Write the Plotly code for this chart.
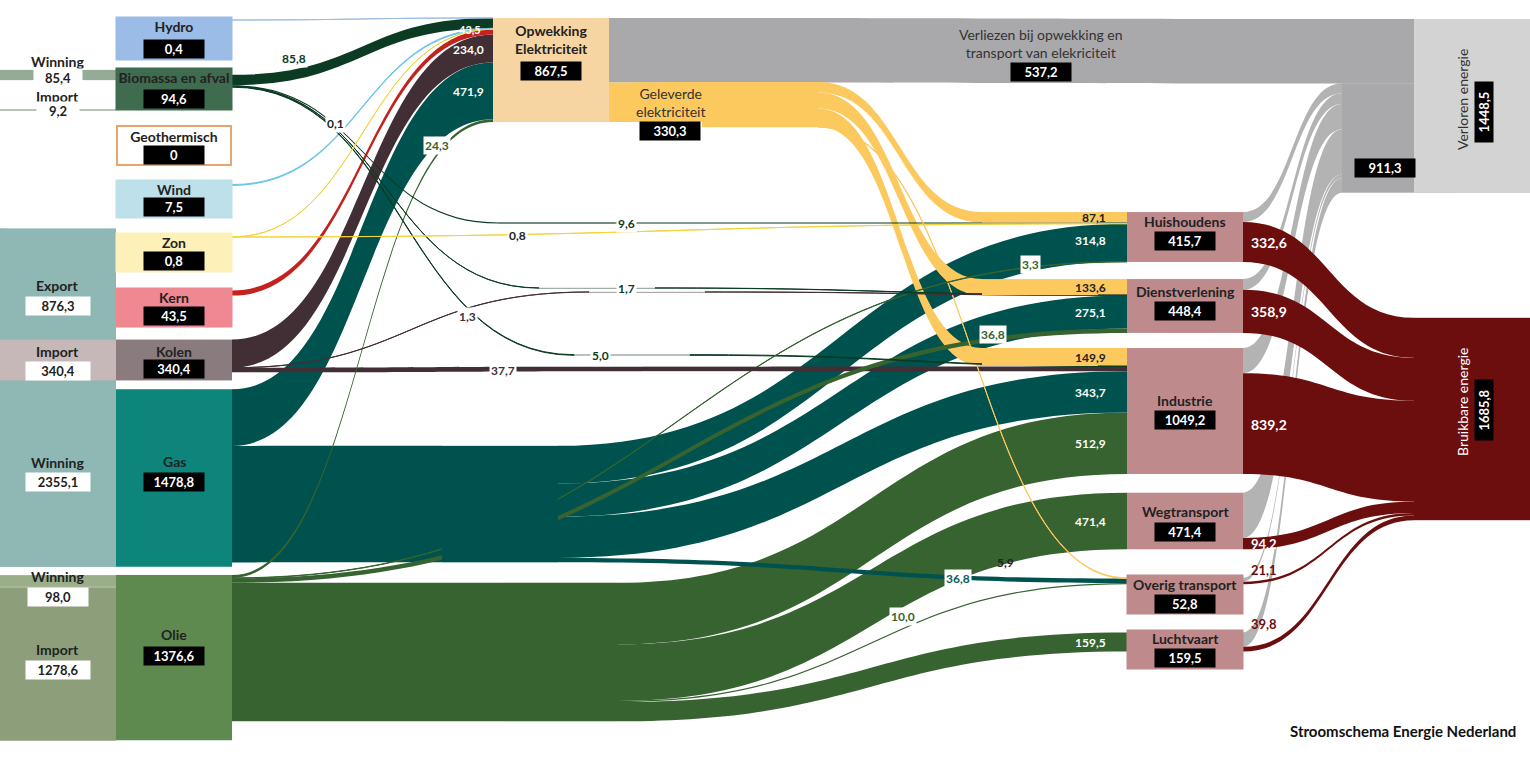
import plotly.graph_objects as go

W, H = 1530, 768
MT, MB = 12, 38
PH = H - MT - MB
FONT = "Lato"
THICK = 116

# ------------------------------------------------------------------ data
bio_src_vals = [85.4, 9.2]            # Winning, Import -> Biomassa en afval
gas_winning = 2355.1
gas_export = 876.3
gas_primary = 1478.8
kolen_import = 340.4
olie_src_vals = [98.0, 1278.6]        # Winning, Import -> Olie

primary = ["Hydro", "Biomassa en afval", "Geothermisch", "Wind", "Zon", "Kern", "Kolen", "Gas", "Olie"]
primary_totals = [0.4, 94.6, 0, 7.5, 0.8, 43.5, 340.4, 1478.8, 1376.6]
to_opwekking = [0.4, 85.8, 0, 7.5, 0.1, 43.5, 234.0, 471.9, 24.3]

opwekking_total = 867.5
opwekking_verlies = 537.2
geleverde = 330.3

sectors = ["Huishoudens", "Dienstverlening", "Industrie", "Wegtransport", "Overig transport", "Luchtvaart"]
sector_totals = [415.7, 448.4, 1049.2, 471.4, 52.8, 159.5]
elec_to_sector = [87.1, 133.6, 149.9, 0, 5.9, 0]
gas_to_sector = [314.8, 275.1, 343.7, 0, 36.8, 0]
olie_to_sector = [3.3, 36.8, 512.9, 471.4, 10.0, 159.5]
kolen_to_sector = [0, 1.3, 37.7, 0, 0, 0]
bio_to_sector = [9.6, 1.7, 5.0, 0, 0, 0]
zon_to_sector = [0.8, 0, 0, 0, 0, 0]
sector_useful = [332.6, 358.9, 839.2, 94.2, 21.1, 39.8]
sector_lost = [83.1, 89.5, 210.0, 377.2, 31.7, 119.7]
sectors_lost_total = 911.3
verloren_total = 1448.5
bruikbaar_total = 1685.8

# ------------------------------------------------------------------ style
primary_node_col = {"Hydro": "#9abce6", "Biomassa en afval": "#3f6b4e", "Geothermisch": "#ffffff",
                    "Wind": "#bde0ea", "Zon": "#fdf0b8", "Kern": "#f08892", "Kolen": "#8a7b7e",
                    "Gas": "#0d857b", "Olie": "#5e8a50"}
primary_link_col = {"Hydro": "#9dbde6", "Biomassa en afval": "#0b3b22", "Wind": "#6cc6e8",
                    "Zon": "#f3d43c", "Kern": "#c3231f", "Kolen": "#412f35", "Gas": "#00524e",
                    "Olie": "#36632f"}
SECTOR_COL = "#bf8a8c"
ELEC_COL = "#fcc95e"
LOSS_COL = "#a9a8aa"
USE_COL = "#6d0e0e"
GAS_C = primary_link_col["Gas"]
OLIE_C = primary_link_col["Olie"]
BIO_C = primary_link_col["Biomassa en afval"]
KOL_C = primary_link_col["Kolen"]

# node ids, colours and pixel centres (layout only)
nodes = []
def add_node(key, color, px, py):
    nodes.append(dict(key=key, color=color, px=px, py=py))

SRC_X, PRIM_X, SECT_X = 58, 174, 1185
add_node("bio_w", "#95ab95", SRC_X, 75)
add_node("bio_i", "#7e9a7e", SRC_X, 110)
add_node("export", "#8fb8b5", SRC_X, 281)
add_node("gas_w", "#8fb8b5", SRC_X, 425.6)
add_node("kolen_i", "#c6b8b9", SRC_X, 360)
add_node("olie_w", "#9aae8a", SRC_X, 581)
add_node("olie_i", "#8c9e7a", SRC_X, 664)
prim_py = {"Hydro": 20, "Biomassa en afval": 81, "Wind": 185, "Zon": 237, "Kern": 293,
           "Kolen": 360, "Gas": 478, "Olie": 657.6}
for p in primary:
    if p in prim_py:
        add_node(p, primary_node_col[p], PRIM_X, prim_py[p])
add_node("Opwekking", "#f6d5a3", 551, 70)
add_node("Geleverde", ELEC_COL, 760, 104.6)
# pass-through points (same colour as the flow) that keep bundles level before they split
add_node("gas_run", GAS_C, 500, 504.1)
add_node("olie_run", OLIE_C, 560, 652.0)
add_node("via_bio_0", BIO_C, 557, 223)
add_node("via_bio_1", BIO_C, 597, 288)
add_node("via_bio_2", BIO_C, 632, 355)
add_node("via_kol_1", KOL_C, 647, 292)
add_node("via_kol_2", KOL_C, 700, 368.9)
add_node("via_el_0", ELEC_COL, 1040, 217.3)
add_node("via_el_1", ELEC_COL, 1040, 287.1)
add_node("via_el_2", ELEC_COL, 1040, 357.0)
sector_py = [237, 306, 411, 521, 581, 642]
for s, y in zip(sectors, sector_py):
    add_node(s, SECTOR_COL, SECT_X, y)
add_node("Verlies", LOSS_COL, 1400, 138)
add_node("Verloren", "#d3d3d3", 1472, 106)
add_node("Bruikbaar", USE_COL, 1472, 419)
idx = {n["key"]: i for i, n in enumerate(nodes)}

links = []
def add_link(s, t, v, c, prio=1):
    if v > 0:
        links.append(dict(s=idx[s], t=idx[t], v=v, c=c, prio=prio))

def add_flow(src, via, tgt, v, c):
    if v <= 0:
        return
    if via in idx:
        add_link(src, via, v, c)
        add_link(via, tgt, v, c)
    else:
        add_link(src, tgt, v, c)

add_link("bio_w", "Biomassa en afval", bio_src_vals[0], "#95ab95")
add_link("bio_i", "Biomassa en afval", bio_src_vals[1], "#7e9a7e")
add_link("gas_w", "export", gas_export, "#8fb8b5")
add_link("gas_w", "Gas", gas_primary, "#8fb8b5")
add_link("kolen_i", "Kolen", kolen_import, "#c6b8b9")
add_link("olie_w", "Olie", olie_src_vals[0], "#9aae8a")
add_link("olie_i", "Olie", olie_src_vals[1], "#8c9e7a")
for p, v in zip(primary, to_opwekking):
    if p in prim_py:
        add_link(p, "Opwekking", v, primary_link_col[p])
add_link("Opwekking", "Verloren", opwekking_verlies, LOSS_COL)
add_link("Opwekking", "Geleverde", geleverde, ELEC_COL)
add_link("Gas", "gas_run", sum(gas_to_sector), GAS_C)
olie_bundle = [0, 0, 1, 1, 1, 1]   # which oil flows travel in the lower bundle
add_link("Olie", "olie_run", sum(v for v, b in zip(olie_to_sector, olie_bundle) if b), OLIE_C)
for i, s in enumerate(sectors):
    add_link("gas_run", s, gas_to_sector[i], GAS_C)
    add_link("olie_run" if olie_bundle[i] else "Olie", s, olie_to_sector[i], OLIE_C)
    add_flow("Geleverde", f"via_el_{i}", s, elec_to_sector[i], ELEC_COL)
    add_flow("Kolen", f"via_kol_{i}", s, kolen_to_sector[i], KOL_C)
    add_flow("Biomassa en afval", f"via_bio_{i}", s, bio_to_sector[i], BIO_C)
    add_link("Zon", s, zon_to_sector[i], primary_link_col["Zon"])
    add_link(s, "Verlies", sector_lost[i], "#b3b3b3", prio=0)
    add_link(s, "Bruikbaar", sector_useful[i], USE_COL)
add_link("Verlies", "Verloren", sectors_lost_total, LOSS_COL)

links.sort(key=lambda l: (l["prio"], -l["v"]))

fig = go.Figure(go.Sankey(
    arrangement="fixed",
    hoverinfo="none",
    node=dict(
        label=["" for _ in nodes],
        color=[n["color"] for n in nodes],
        x=[n["px"] / W for n in nodes],
        y=[(n["py"] - MT) / PH for n in nodes],
        thickness=THICK,
        pad=23.5,
        line=dict(width=0),
    ),
    link=dict(
        source=[l["s"] for l in links],
        target=[l["t"] for l in links],
        value=[l["v"] for l in links],
        color=[l["c"] for l in links],
        line=dict(width=0),
    ),
))

# ------------------------------------------------------------------ annotations
def fmt(v):
    return f"{v:.1f}".replace(".", ",") if v != 0 else "0"

def X(px):
    return px / W

def Y(py):
    return (H - MB - py) / PH

ann = []

def text(px, py, t, color="#222222", size=14, bold=True, bg=None, angle=0, xanchor="center"):
    d = dict(x=X(px), y=Y(py), xref="paper", yref="paper", text=t, showarrow=False,
             xanchor=xanchor, yanchor="middle", textangle=angle,
             font=dict(family=FONT, size=size, color=color, weight="bold" if bold else "normal"))
    if bg:
        d.update(bgcolor=bg, borderpad=1)
    ann.append(d)

def pill(px, py, t, dark=True, angle=0, w=58, size=13):
    ann.append(dict(x=X(px), y=Y(py), xref="paper", yref="paper", text=f"<b>{t}</b>",
                    showarrow=False, xanchor="center", yanchor="middle", textangle=angle,
                    width=w, height=16, borderpad=1,
                    bgcolor="#000000" if dark else "#ffffff",
                    font=dict(family=FONT, size=size, color="#ffffff" if dark else "#222222")))

def box(px, top, bot, bg, label, border=None, w=THICK - 2):
    d = dict(x=X(px), y=Y((top + bot) / 2), xref="paper", yref="paper", text=label,
             showarrow=False, xanchor="center", yanchor="middle", valign="top",
             width=w, height=bot - top - 2, borderpad=1, bgcolor=bg,
             font=dict(family=FONT, size=14, color="#222222", weight="bold"))
    if border:
        d.update(bordercolor=border, borderwidth=2, height=bot - top - 6, width=w - 4)
    ann.append(d)

# source column labels
text(SRC_X, 62, "Winning"); pill(SRC_X, 78, fmt(bio_src_vals[0]), dark=False, w=46)
text(SRC_X, 96, "Import"); pill(SRC_X, 111, fmt(bio_src_vals[1]), dark=False, w=40)
text(SRC_X, 285, "Export"); pill(SRC_X, 306, fmt(gas_export), dark=False, w=62)
text(SRC_X, 351, "Import"); pill(SRC_X, 371, fmt(kolen_import), dark=False, w=62)
text(SRC_X, 462, "Winning"); pill(SRC_X, 482, fmt(gas_winning), dark=False, w=62)
text(SRC_X, 576, "Winning"); pill(SRC_X, 597, fmt(olie_src_vals[0]), dark=False, w=58)
text(SRC_X, 649, "Import"); pill(SRC_X, 670, fmt(olie_src_vals[1]), dark=False, w=62)

# primary boxes
prim_box = {"Hydro": (17, 60), "Biomassa en afval": (68, 110), "Geothermisch": (125, 166),
            "Wind": (180, 218), "Zon": (233, 272), "Kern": (288, 327)}
for p, tot in zip(primary, primary_totals):
    if p in prim_box:
        top, bot = prim_box[p]
        box(PRIM_X, top, bot, primary_node_col[p], p,
            border="#e9a56c" if p == "Geothermisch" else None)
        pill(PRIM_X, bot - 11, fmt(tot))
text(PRIM_X, 351, "Kolen"); pill(PRIM_X, 369, fmt(primary_totals[6]))
text(PRIM_X, 461, "Gas"); pill(PRIM_X, 482, fmt(primary_totals[7]))
text(PRIM_X, 634, "Olie"); pill(PRIM_X, 656, fmt(primary_totals[8]))

# opwekking / verliezen / geleverde
text(551, 40, "Opwekking<br>Elektriciteit")
pill(551, 71, fmt(opwekking_total))
text(1041, 43, "Verliezen bij opwekking en<br>transport van elekriciteit", bold=False, color="#333333")
pill(1041, 72, fmt(opwekking_verlies))
text(670, 103, "Geleverde<br>elektriciteit", bold=False, color="#333333")
pill(670, 131, fmt(geleverde))

# sector boxes
sec_label_py = [221, 291, 400, 512, 584, 638]
box(SECT_X, 575, 614, SECTOR_COL, "")
box(SECT_X, 630, 669, SECTOR_COL, "")
for s, tot, ly in zip(sectors, sector_totals, sec_label_py):
    text(SECT_X, ly, s)
    pill(SECT_X, ly + 20, fmt(tot))

# right side
text(1462, 100, "Verloren energie", angle=-90, bold=False, color="#333333")
pill(1484, 112, fmt(verloren_total), angle=-90)
pill(1385, 168, fmt(sectors_lost_total))
text(1462, 402, "Bruikbare energie", angle=-90, bold=False, color="#ffffff")
pill(1484, 410, fmt(bruikbaar_total), angle=-90)

useful_py = [242, 311, 424, 544, 570, 624]
for v, y, i in zip(sector_useful, useful_py, range(6)):
    col = "#ffffff" if i < 4 else USE_COL
    text(1249, y, fmt(v), color=col, size=14 if i < 3 else 13, xanchor="left")

# flow labels into opwekking
text(294, 58, fmt(to_opwekking[1]), color="#0b3b22", size=12, bg="#ffffff")
text(470, 30, fmt(to_opwekking[5]), color="#ffffff", size=11)
text(468, 49, fmt(to_opwekking[6]), color="#ffffff", size=12)
text(468, 91, fmt(to_opwekking[7]), color="#ffffff", size=12)
text(335, 124, fmt(to_opwekking[4]), color="#222222", size=12, bg="#ffffff")
text(437, 146, fmt(to_opwekking[8]), color="#36632f", size=12, bg="#ffffff")

# thin flow labels
text(626, 223, fmt(bio_to_sector[0]), color="#0b3b22", size=12, bg="#ffffff")
text(517, 236, fmt(zon_to_sector[0]), color="#222222", size=12, bg="#ffffff")
text(626, 288, fmt(bio_to_sector[1]), color="#0b3b22", size=12, bg="#ffffff")
text(467, 316, fmt(kolen_to_sector[1]), color="#412f35", size=12, bg="#ffffff")
text(600, 355, fmt(bio_to_sector[2]), color="#0b3b22", size=12, bg="#ffffff")
text(503, 370, fmt(kolen_to_sector[2]), color="#412f35", size=12, bg="#ffffff")

# labels next to sectors
text(1108, 217, fmt(elec_to_sector[0]), size=12, xanchor="right")
text(1108, 241, fmt(gas_to_sector[0]), color="#ffffff", size=12, xanchor="right")
text(1030, 264, fmt(olie_to_sector[0]), color="#36632f", size=12, bg="#ffffff")
text(1108, 287, fmt(elec_to_sector[1]), size=12, xanchor="right")
text(1108, 312, fmt(gas_to_sector[1]), color="#ffffff", size=12, xanchor="right")
text(993, 334, fmt(olie_to_sector[1]), color="#36632f", size=12, bg="#ffffff")
text(1108, 357, fmt(elec_to_sector[2]), size=12, xanchor="right")
text(1108, 392, fmt(gas_to_sector[2]), color="#ffffff", size=12, xanchor="right")
text(1108, 443, fmt(olie_to_sector[2]), color="#ffffff", size=12, xanchor="right")
text(1108, 521, fmt(olie_to_sector[3]), color="#ffffff", size=12, xanchor="right")
text(1005, 562, fmt(elec_to_sector[4]), size=12)
text(958, 578, fmt(gas_to_sector[4]), color="#0c5b5b", size=12, bg="#ffffff")
text(903, 616, fmt(olie_to_sector[4]), color="#36632f", size=12, bg="#ffffff")
text(1108, 642, fmt(olie_to_sector[5]), color="#ffffff", size=12, xanchor="right")

# title
text(1518, 731, "Stroomschema Energie Nederland", size=15, xanchor="right", color="#111111")

fig.update_layout(
    width=W, height=H,
    margin=dict(l=0, r=0, t=MT, b=MB),
    paper_bgcolor="#ffffff",
    plot_bgcolor="#ffffff",
    font=dict(family=FONT),
    annotations=ann,
    separators=",.",
)

fig.write_html("out.html", config={"displayModeBar": False},
               post_script="document.body.style.margin='0px';")
